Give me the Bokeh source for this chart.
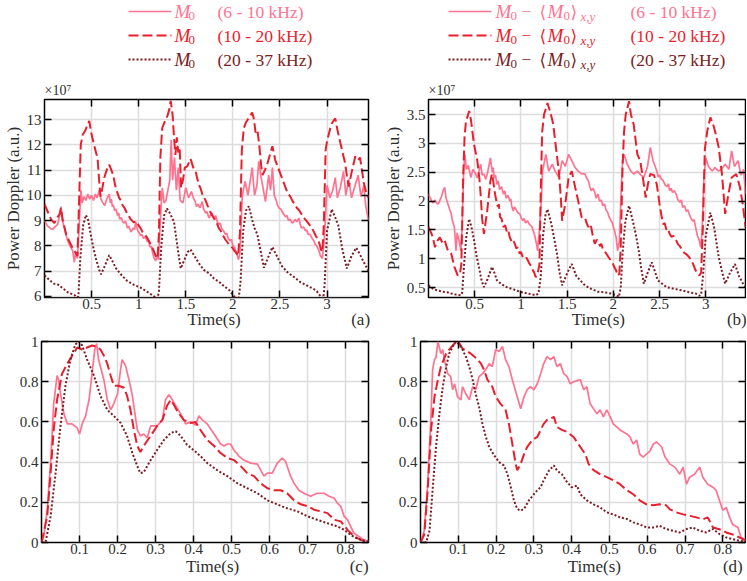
from bokeh.plotting import figure
from bokeh.models import Range1d, FixedTicker, LinearAxis, Title
from bokeh.layouts import column, row
from bokeh.embed import file_html
from bokeh.resources import INLINE
from bokeh.core.properties import value

# ---------------- data ----------------
bands = ["(6 - 10 kHz)", "(10 - 20 kHz)", "(20 - 37 kHz)"]
tags = ["(a)", "(b)", "(c)", "(d)"]

# panel (a): M0, units of 1e7
a_pink = [(0.00, 9.00), (0.03, 8.80), (0.06, 8.70), (0.087, 8.65), (0.11, 8.75), (0.14, 8.85), (0.16, 9.20), (0.175, 9.55), (0.19, 9.00), (0.21, 8.70), (0.246, 8.20), (0.27, 8.00), (0.30, 7.80), (0.316, 7.35), (0.33, 7.70), (0.35, 7.50), (0.365, 8.60), (0.387, 10.20), (0.40, 9.70), (0.42, 9.95), (0.44, 9.80), (0.46, 10.05), (0.48, 9.85), (0.50, 10.00), (0.52, 9.80), (0.54, 10.05), (0.56, 9.90), (0.58, 10.20), (0.60, 9.85), (0.62, 9.70), (0.64, 9.60), (0.66, 9.85), (0.687, 10.05), (0.70, 9.70), (0.71, 9.85), (0.72, 9.55), (0.73, 9.62), (0.745, 9.40), (0.76, 9.45), (0.775, 9.20), (0.787, 9.30), (0.80, 9.05), (0.815, 9.12), (0.83, 8.95), (0.846, 8.90), (0.86, 8.98), (0.88, 8.70), (0.895, 8.78), (0.917, 8.55), (0.93, 8.62), (0.94, 8.70), (0.955, 8.65), (0.97, 8.95), (0.98, 8.75), (0.99, 8.60), (1.005, 8.52), (1.02, 8.40), (1.035, 8.45), (1.05, 8.30), (1.07, 8.35), (1.094, 8.15), (1.105, 8.20), (1.12, 7.95), (1.135, 7.98), (1.146, 7.75), (1.165, 7.50), (1.18, 7.40), (1.195, 7.60), (1.21, 7.45), (1.23, 9.00), (1.25, 10.30), (1.27, 9.70), (1.29, 9.80), (1.31, 10.20), (1.33, 10.60), (1.345, 12.20), (1.36, 10.60), (1.38, 11.50), (1.40, 10.20), (1.42, 11.10), (1.44, 9.80), (1.47, 9.70), (1.50, 10.30), (1.53, 9.90), (1.56, 10.15), (1.58, 9.90), (1.60, 9.75), (1.615, 9.55), (1.63, 9.65), (1.65, 9.50), (1.675, 9.75), (1.69, 9.45), (1.71, 9.30), (1.725, 9.35), (1.746, 9.10), (1.76, 9.20), (1.78, 9.30), (1.80, 9.05), (1.817, 9.20), (1.835, 8.95), (1.85, 8.85), (1.865, 8.90), (1.88, 8.70), (1.90, 8.60), (1.92, 8.45), (1.935, 8.50), (1.95, 8.30), (1.97, 8.20), (1.985, 8.25), (2.00, 8.00), (2.015, 7.95), (2.03, 7.80), (2.045, 7.65), (2.06, 7.45), (2.075, 7.70), (2.10, 10.00), (2.13, 10.55), (2.16, 10.00), (2.185, 10.60), (2.205, 11.10), (2.23, 10.00), (2.255, 10.40), (2.275, 11.35), (2.30, 10.70), (2.32, 10.30), (2.346, 9.75), (2.38, 10.80), (2.40, 10.20), (2.42, 11.10), (2.44, 10.00), (2.46, 9.80), (2.475, 9.60), (2.49, 9.50), (2.51, 9.45), (2.525, 9.35), (2.54, 9.25), (2.56, 9.15), (2.575, 9.20), (2.59, 9.00), (2.61, 9.05), (2.63, 8.90), (2.645, 8.95), (2.66, 9.05), (2.68, 8.95), (2.70, 9.10), (2.715, 8.85), (2.73, 8.70), (2.75, 8.75), (2.77, 8.60), (2.785, 8.62), (2.80, 8.45), (2.82, 8.45), (2.84, 8.30), (2.86, 8.20), (2.875, 8.05), (2.89, 8.00), (2.91, 7.85), (2.93, 7.60), (2.95, 7.50), (2.97, 8.20), (3.00, 10.40), (3.03, 9.90), (3.06, 10.20), (3.087, 10.70), (3.11, 9.90), (3.14, 10.30), (3.175, 10.95), (3.20, 10.00), (3.23, 10.65), (3.26, 9.90), (3.29, 10.30), (3.33, 10.80), (3.36, 9.95), (3.39, 10.40), (3.41, 9.60), (3.44, 9.00)]
a_red = [(0.00, 9.65), (0.04, 9.30), (0.07, 9.05), (0.105, 8.90), (0.13, 9.10), (0.16, 9.25), (0.175, 9.50), (0.19, 9.10), (0.23, 8.45), (0.26, 8.20), (0.30, 7.90), (0.334, 7.70), (0.35, 7.60), (0.365, 9.50), (0.385, 12.00), (0.405, 12.40), (0.43, 12.55), (0.458, 12.80), (0.475, 12.95), (0.49, 12.60), (0.51, 12.25), (0.54, 11.80), (0.564, 11.45), (0.58, 10.60), (0.595, 9.95), (0.61, 10.20), (0.634, 10.70), (0.66, 11.00), (0.687, 11.22), (0.70, 11.10), (0.72, 10.90), (0.735, 10.70), (0.75, 10.40), (0.77, 10.15), (0.793, 9.90), (0.81, 9.80), (0.83, 9.60), (0.85, 9.50), (0.865, 9.38), (0.88, 9.25), (0.90, 9.15), (0.915, 9.05), (0.93, 9.00), (0.95, 8.92), (0.97, 8.98), (0.987, 8.90), (1.00, 8.80), (1.02, 8.70), (1.04, 8.55), (1.06, 8.45), (1.08, 8.38), (1.10, 8.25), (1.115, 8.15), (1.13, 8.05), (1.145, 7.92), (1.16, 7.80), (1.17, 7.70), (1.18, 7.60), (1.20, 7.50), (1.215, 8.50), (1.23, 11.50), (1.25, 12.67), (1.28, 12.95), (1.305, 13.15), (1.325, 13.40), (1.34, 13.75), (1.36, 13.20), (1.375, 12.30), (1.39, 11.60), (1.405, 12.30), (1.42, 11.70), (1.435, 11.90), (1.45, 10.30), (1.47, 10.60), (1.49, 11.10), (1.516, 11.15), (1.55, 11.45), (1.58, 11.10), (1.605, 10.95), (1.62, 10.70), (1.64, 10.40), (1.655, 10.30), (1.675, 10.05), (1.69, 9.95), (1.71, 9.80), (1.73, 9.60), (1.746, 9.50), (1.76, 9.35), (1.78, 9.20), (1.80, 9.10), (1.817, 8.98), (1.835, 8.85), (1.85, 8.70), (1.87, 8.60), (1.887, 8.45), (1.905, 8.35), (1.92, 8.25), (1.94, 8.15), (1.958, 8.05), (1.98, 7.98), (2.00, 7.90), (2.015, 7.80), (2.03, 7.75), (2.055, 7.60), (2.075, 8.50), (2.095, 11.80), (2.116, 12.67), (2.14, 12.90), (2.17, 13.07), (2.205, 13.28), (2.225, 13.00), (2.24, 12.50), (2.26, 12.60), (2.28, 12.00), (2.30, 11.20), (2.315, 10.80), (2.34, 11.00), (2.37, 11.30), (2.40, 11.70), (2.42, 11.95), (2.45, 11.40), (2.48, 11.10), (2.52, 10.70), (2.545, 10.45), (2.57, 10.20), (2.59, 10.05), (2.61, 9.95), (2.63, 9.80), (2.655, 9.65), (2.68, 9.50), (2.705, 9.40), (2.73, 9.25), (2.755, 9.10), (2.78, 9.00), (2.80, 8.90), (2.82, 8.80), (2.84, 8.70), (2.86, 8.55), (2.88, 8.40), (2.895, 8.30), (2.91, 8.20), (2.925, 8.00), (2.935, 7.85), (2.95, 7.75), (2.965, 8.80), (2.985, 11.80), (3.00, 12.15), (3.03, 12.60), (3.05, 12.85), (3.087, 13.05), (3.11, 12.60), (3.14, 12.10), (3.165, 11.70), (3.19, 11.30), (3.21, 10.80), (3.23, 10.35), (3.26, 10.90), (3.30, 11.55), (3.33, 11.40), (3.35, 11.50), (3.37, 11.00), (3.39, 10.50), (3.41, 10.20), (3.44, 9.90)]
a_dark = [(0.00, 6.83), (0.05, 6.65), (0.10, 6.50), (0.14, 6.47), (0.20, 6.30), (0.25, 6.15), (0.317, 6.05), (0.35, 5.95), (0.36, 6.00), (0.38, 7.50), (0.41, 8.80), (0.44, 9.22), (0.465, 9.00), (0.49, 8.45), (0.52, 7.90), (0.546, 7.50), (0.58, 7.05), (0.60, 6.87), (0.64, 7.20), (0.687, 7.63), (0.72, 7.40), (0.76, 7.10), (0.81, 6.87), (0.88, 6.60), (0.95, 6.45), (1.02, 6.34), (1.08, 6.20), (1.13, 6.08), (1.18, 5.95), (1.20, 5.90), (1.215, 6.20), (1.24, 8.00), (1.27, 9.20), (1.30, 9.48), (1.33, 9.30), (1.375, 8.95), (1.41, 8.00), (1.446, 7.10), (1.48, 7.40), (1.52, 7.75), (1.55, 7.85), (1.60, 7.55), (1.64, 7.30), (1.69, 7.05), (1.75, 6.90), (1.80, 6.70), (1.85, 6.58), (1.90, 6.42), (1.96, 6.25), (2.00, 6.05), (2.03, 5.93), (2.06, 5.85), (2.08, 6.50), (2.11, 8.60), (2.14, 9.40), (2.17, 9.57), (2.20, 9.10), (2.23, 8.70), (2.26, 8.45), (2.30, 7.70), (2.33, 7.13), (2.37, 7.50), (2.42, 7.95), (2.46, 7.65), (2.52, 7.20), (2.58, 6.95), (2.66, 6.73), (2.72, 6.55), (2.80, 6.40), (2.86, 6.28), (2.89, 6.20), (2.93, 6.00), (2.96, 5.92), (2.975, 6.50), (3.00, 8.60), (3.05, 9.45), (3.09, 9.10), (3.12, 8.80), (3.16, 7.90), (3.21, 7.10), (3.26, 7.60), (3.31, 7.92), (3.35, 7.65), (3.39, 7.35), (3.44, 7.00)]

# panel (b): M0 - <M0>xy, units of 1e7
b_pink = [(0.00, 2.12), (0.02, 2.05), (0.034, 2.00), (0.05, 1.97), (0.07, 2.02), (0.09, 1.96), (0.105, 1.95), (0.12, 2.00), (0.14, 2.08), (0.158, 2.18), (0.175, 2.24), (0.19, 2.05), (0.21, 1.95), (0.23, 1.85), (0.246, 1.78), (0.26, 1.65), (0.28, 1.55), (0.298, 1.14), (0.31, 1.45), (0.33, 1.32), (0.35, 1.14), (0.365, 1.60), (0.38, 2.52), (0.394, 2.81), (0.41, 2.55), (0.43, 2.62), (0.458, 2.41), (0.48, 2.55), (0.50, 2.50), (0.53, 2.40), (0.55, 2.55), (0.564, 2.64), (0.58, 2.45), (0.60, 2.47), (0.62, 2.38), (0.64, 2.50), (0.67, 2.75), (0.69, 2.50), (0.70, 2.58), (0.71, 2.40), (0.725, 2.45), (0.74, 2.29), (0.755, 2.35), (0.77, 2.20), (0.79, 2.25), (0.81, 2.12), (0.825, 2.18), (0.84, 2.05), (0.86, 2.10), (0.88, 2.00), (0.89, 2.04), (0.90, 1.92), (0.917, 1.83), (0.93, 1.90), (0.95, 1.85), (0.965, 1.80), (0.987, 1.78), (1.00, 1.72), (1.02, 1.66), (1.035, 1.70), (1.05, 1.62), (1.07, 1.66), (1.09, 1.60), (1.105, 1.58), (1.12, 1.55), (1.13, 1.50), (1.14, 1.45), (1.15, 1.40), (1.16, 1.32), (1.17, 1.25), (1.18, 1.14), (1.20, 1.49), (1.22, 2.00), (1.234, 2.52), (1.27, 2.81), (1.30, 2.52), (1.34, 2.64), (1.37, 2.52), (1.41, 2.41), (1.446, 2.70), (1.48, 2.60), (1.516, 2.81), (1.55, 2.70), (1.587, 2.58), (1.62, 2.52), (1.657, 2.47), (1.693, 2.47), (1.71, 2.40), (1.73, 2.35), (1.745, 2.25), (1.76, 2.18), (1.78, 2.22), (1.80, 2.15), (1.815, 2.05), (1.834, 2.12), (1.85, 2.00), (1.87, 2.02), (1.885, 1.92), (1.905, 1.95), (1.92, 1.85), (1.94, 1.80), (1.955, 1.72), (1.975, 1.66), (1.99, 1.62), (2.00, 1.55), (2.015, 1.48), (2.03, 1.37), (2.046, 1.14), (2.065, 1.30), (2.085, 2.20), (2.10, 2.70), (2.116, 2.81), (2.15, 2.64), (2.19, 2.52), (2.22, 2.47), (2.26, 2.52), (2.30, 2.45), (2.33, 2.41), (2.37, 2.60), (2.40, 2.93), (2.43, 2.70), (2.47, 2.52), (2.485, 2.42), (2.50, 2.45), (2.52, 2.38), (2.54, 2.35), (2.56, 2.28), (2.58, 2.25), (2.595, 2.30), (2.61, 2.18), (2.625, 2.22), (2.64, 2.15), (2.66, 2.18), (2.68, 2.12), (2.70, 2.02), (2.72, 1.98), (2.735, 2.02), (2.75, 1.89), (2.77, 1.92), (2.79, 1.82), (2.805, 1.85), (2.82, 1.78), (2.84, 1.70), (2.86, 1.65), (2.875, 1.68), (2.89, 1.55), (2.91, 1.40), (2.93, 1.32), (2.945, 1.20), (2.96, 1.45), (2.98, 2.40), (3.00, 2.75), (3.03, 2.60), (3.07, 2.52), (3.10, 2.58), (3.14, 2.52), (3.17, 2.55), (3.21, 2.64), (3.25, 2.55), (3.28, 2.87), (3.31, 2.60), (3.35, 2.70), (3.38, 2.45), (3.41, 2.55), (3.43, 2.12)]
b_red = [(0.00, 1.55), (0.034, 1.43), (0.05, 1.35), (0.07, 1.20), (0.09, 1.30), (0.123, 1.37), (0.15, 1.28), (0.175, 1.32), (0.21, 1.14), (0.246, 1.09), (0.28, 0.86), (0.30, 0.78), (0.317, 0.71), (0.34, 0.74), (0.355, 0.90), (0.375, 2.40), (0.39, 3.10), (0.405, 3.38), (0.425, 3.48), (0.44, 3.56), (0.46, 3.40), (0.475, 3.20), (0.493, 2.98), (0.528, 2.70), (0.55, 2.40), (0.564, 2.12), (0.58, 1.70), (0.60, 1.43), (0.635, 1.83), (0.67, 2.35), (0.687, 2.47), (0.70, 2.35), (0.72, 2.12), (0.735, 2.00), (0.75, 1.90), (0.76, 1.95), (0.775, 1.72), (0.79, 1.70), (0.81, 1.55), (0.83, 1.58), (0.85, 1.45), (0.865, 1.48), (0.88, 1.37), (0.90, 1.30), (0.915, 1.33), (0.934, 1.26), (0.95, 1.18), (0.965, 1.20), (0.987, 1.09), (1.00, 1.12), (1.02, 1.03), (1.04, 1.00), (1.06, 1.02), (1.076, 0.97), (1.09, 0.92), (1.10, 0.90), (1.115, 0.86), (1.13, 0.80), (1.145, 0.76), (1.16, 0.68), (1.18, 0.74), (1.20, 0.90), (1.215, 2.20), (1.23, 3.20), (1.25, 3.50), (1.27, 3.60), (1.287, 3.70), (1.32, 3.53), (1.35, 3.33), (1.375, 2.98), (1.41, 2.52), (1.43, 2.10), (1.446, 1.66), (1.48, 1.95), (1.516, 2.41), (1.55, 2.52), (1.587, 2.24), (1.62, 2.00), (1.657, 1.72), (1.693, 1.72), (1.71, 1.62), (1.73, 1.55), (1.745, 1.60), (1.76, 1.55), (1.78, 1.38), (1.80, 1.26), (1.82, 1.33), (1.84, 1.30), (1.855, 1.22), (1.87, 1.26), (1.89, 1.15), (1.92, 1.10), (1.94, 1.05), (1.96, 1.00), (1.975, 0.97), (1.99, 0.94), (2.00, 0.90), (2.015, 0.84), (2.03, 0.80), (2.046, 0.71), (2.065, 0.74), (2.08, 1.20), (2.10, 2.60), (2.116, 3.20), (2.134, 3.50), (2.15, 3.60), (2.17, 3.73), (2.19, 3.50), (2.22, 3.33), (2.26, 2.81), (2.29, 2.70), (2.32, 2.40), (2.35, 2.06), (2.375, 2.30), (2.40, 2.47), (2.44, 2.45), (2.47, 2.29), (2.50, 1.95), (2.52, 1.75), (2.54, 1.60), (2.555, 1.62), (2.575, 1.50), (2.59, 1.52), (2.61, 1.43), (2.63, 1.38), (2.65, 1.40), (2.68, 1.32), (2.70, 1.25), (2.72, 1.22), (2.75, 1.14), (2.77, 1.10), (2.79, 1.08), (2.82, 1.03), (2.84, 0.98), (2.86, 0.92), (2.875, 0.86), (2.89, 0.80), (2.91, 0.75), (2.93, 0.71), (2.95, 0.76), (2.97, 1.60), (2.99, 2.90), (3.016, 3.21), (3.05, 3.45), (3.08, 3.33), (3.11, 3.15), (3.14, 2.93), (3.175, 2.47), (3.21, 1.78), (3.245, 2.12), (3.28, 2.41), (3.33, 2.47), (3.37, 2.24), (3.40, 1.95), (3.43, 1.55)]
b_dark = [(0.00, 0.54), (0.03, 0.50), (0.06, 0.47), (0.105, 0.45), (0.15, 0.43), (0.20, 0.42), (0.246, 0.40), (0.30, 0.38), (0.35, 0.37), (0.365, 0.42), (0.385, 0.90), (0.41, 1.40), (0.44, 1.69), (0.465, 1.55), (0.493, 1.32), (0.52, 1.05), (0.546, 0.86), (0.575, 0.62), (0.60, 0.51), (0.64, 0.65), (0.687, 0.86), (0.715, 0.75), (0.74, 0.63), (0.79, 0.56), (0.846, 0.51), (0.92, 0.47), (0.987, 0.43), (1.07, 0.40), (1.16, 0.37), (1.19, 0.40), (1.215, 0.70), (1.24, 1.40), (1.265, 1.75), (1.287, 1.86), (1.33, 1.60), (1.36, 1.35), (1.39, 1.09), (1.42, 0.75), (1.446, 0.54), (1.50, 0.75), (1.55, 0.91), (1.60, 0.70), (1.64, 0.63), (1.693, 0.54), (1.76, 0.48), (1.834, 0.43), (1.90, 0.42), (1.975, 0.40), (2.03, 0.37), (2.06, 0.34), (2.08, 0.50), (2.10, 1.10), (2.13, 1.65), (2.17, 1.92), (2.21, 1.66), (2.24, 1.45), (2.275, 1.14), (2.30, 0.85), (2.33, 0.57), (2.37, 0.75), (2.416, 0.94), (2.45, 0.78), (2.48, 0.63), (2.575, 0.51), (2.66, 0.48), (2.75, 0.45), (2.82, 0.42), (2.89, 0.40), (2.93, 0.36), (2.95, 0.38), (2.97, 0.70), (3.00, 1.40), (3.05, 1.80), (3.09, 1.55), (3.14, 1.03), (3.18, 0.75), (3.21, 0.57), (3.26, 0.75), (3.316, 0.91), (3.36, 0.70), (3.40, 0.58), (3.43, 0.51)]

# panel (c): normalised M0 over one cycle
c_pink = [(0.0, 0.0), (0.006, 0.03), (0.015, 0.16), (0.024, 0.40), (0.032, 0.69), (0.041, 0.83), (0.045, 0.81), (0.05, 0.74), (0.059, 0.64), (0.068, 0.59), (0.08, 0.59), (0.094, 0.57), (0.10, 0.54), (0.107, 0.59), (0.116, 0.63), (0.125, 0.71), (0.133, 0.84), (0.14, 0.96), (0.145, 0.99), (0.15, 0.91), (0.164, 0.81), (0.173, 0.71), (0.182, 0.66), (0.19, 0.69), (0.20, 0.74), (0.208, 0.86), (0.212, 0.91), (0.221, 0.88), (0.23, 0.81), (0.239, 0.73), (0.252, 0.56), (0.26, 0.53), (0.269, 0.54), (0.278, 0.52), (0.287, 0.58), (0.304, 0.58), (0.318, 0.61), (0.326, 0.71), (0.335, 0.735), (0.344, 0.71), (0.353, 0.68), (0.366, 0.64), (0.379, 0.59), (0.392, 0.60), (0.405, 0.585), (0.414, 0.63), (0.423, 0.61), (0.436, 0.59), (0.454, 0.54), (0.471, 0.49), (0.48, 0.48), (0.489, 0.49), (0.497, 0.49), (0.506, 0.46), (0.519, 0.43), (0.532, 0.41), (0.55, 0.395), (0.568, 0.39), (0.585, 0.33), (0.594, 0.345), (0.607, 0.345), (0.62, 0.395), (0.633, 0.42), (0.642, 0.403), (0.655, 0.33), (0.664, 0.295), (0.677, 0.26), (0.69, 0.245), (0.708, 0.23), (0.725, 0.245), (0.743, 0.245), (0.756, 0.23), (0.77, 0.22), (0.778, 0.196), (0.787, 0.18), (0.796, 0.13), (0.805, 0.113), (0.813, 0.08), (0.822, 0.046), (0.835, 0.03), (0.848, 0.013), (0.86, 0.005)]
c_red = [(0.0, 0.0), (0.015, 0.13), (0.024, 0.345), (0.032, 0.56), (0.041, 0.71), (0.054, 0.84), (0.068, 0.89), (0.081, 0.93), (0.094, 0.97), (0.107, 0.96), (0.12, 0.97), (0.133, 0.98), (0.145, 0.975), (0.155, 0.96), (0.164, 0.93), (0.173, 0.89), (0.182, 0.83), (0.19, 0.78), (0.203, 0.78), (0.217, 0.77), (0.225, 0.73), (0.234, 0.66), (0.243, 0.56), (0.252, 0.48), (0.26, 0.45), (0.274, 0.495), (0.287, 0.53), (0.304, 0.58), (0.318, 0.61), (0.33, 0.68), (0.34, 0.71), (0.348, 0.685), (0.36, 0.645), (0.374, 0.61), (0.392, 0.595), (0.405, 0.60), (0.418, 0.56), (0.436, 0.51), (0.454, 0.48), (0.471, 0.445), (0.489, 0.42), (0.506, 0.41), (0.524, 0.38), (0.541, 0.345), (0.559, 0.33), (0.576, 0.295), (0.594, 0.27), (0.611, 0.26), (0.629, 0.26), (0.646, 0.245), (0.664, 0.21), (0.682, 0.19), (0.70, 0.18), (0.717, 0.163), (0.734, 0.155), (0.752, 0.146), (0.77, 0.113), (0.787, 0.105), (0.805, 0.063), (0.822, 0.03), (0.84, 0.013), (0.86, 0.005)]
c_dark = [(0.0, 0.0), (0.011, 0.005), (0.024, 0.13), (0.037, 0.345), (0.05, 0.58), (0.063, 0.78), (0.076, 0.91), (0.089, 0.985), (0.098, 1.0), (0.107, 0.98), (0.12, 0.91), (0.138, 0.83), (0.155, 0.73), (0.173, 0.66), (0.19, 0.63), (0.208, 0.595), (0.225, 0.53), (0.239, 0.445), (0.252, 0.38), (0.26, 0.345), (0.269, 0.35), (0.287, 0.41), (0.304, 0.46), (0.322, 0.51), (0.34, 0.545), (0.353, 0.553), (0.366, 0.53), (0.383, 0.486), (0.40, 0.46), (0.418, 0.43), (0.436, 0.395), (0.462, 0.36), (0.489, 0.33), (0.515, 0.295), (0.541, 0.27), (0.568, 0.245), (0.594, 0.21), (0.62, 0.19), (0.646, 0.17), (0.673, 0.155), (0.70, 0.13), (0.725, 0.113), (0.752, 0.096), (0.778, 0.08), (0.796, 0.063), (0.813, 0.038), (0.83, 0.02), (0.848, 0.008), (0.86, 0.005)]

# panel (d): normalised M0 - <M0>xy over one cycle
d_pink = [(0.0, 0.0), (0.002, 0.01), (0.01, 0.06), (0.019, 0.29), (0.028, 0.64), (0.032, 0.86), (0.037, 0.91), (0.041, 0.92), (0.046, 1.0), (0.054, 0.94), (0.059, 0.96), (0.063, 0.91), (0.072, 0.84), (0.08, 0.825), (0.085, 0.76), (0.09, 0.79), (0.098, 0.725), (0.107, 0.71), (0.111, 0.775), (0.12, 0.74), (0.129, 0.71), (0.138, 0.775), (0.146, 0.76), (0.155, 0.825), (0.164, 0.84), (0.173, 0.86), (0.182, 0.89), (0.19, 0.875), (0.199, 0.96), (0.208, 0.95), (0.217, 0.975), (0.225, 0.91), (0.234, 0.875), (0.243, 0.81), (0.256, 0.725), (0.265, 0.665), (0.274, 0.725), (0.282, 0.76), (0.291, 0.775), (0.30, 0.76), (0.309, 0.79), (0.318, 0.84), (0.326, 0.89), (0.335, 0.925), (0.344, 0.91), (0.353, 0.925), (0.361, 0.875), (0.37, 0.89), (0.379, 0.84), (0.388, 0.825), (0.396, 0.79), (0.405, 0.80), (0.423, 0.81), (0.432, 0.76), (0.44, 0.775), (0.449, 0.69), (0.467, 0.64), (0.475, 0.66), (0.484, 0.625), (0.493, 0.66), (0.502, 0.625), (0.51, 0.59), (0.528, 0.56), (0.546, 0.54), (0.554, 0.525), (0.563, 0.49), (0.572, 0.51), (0.58, 0.44), (0.589, 0.425), (0.598, 0.44), (0.607, 0.455), (0.616, 0.49), (0.625, 0.50), (0.638, 0.475), (0.647, 0.425), (0.66, 0.39), (0.673, 0.375), (0.686, 0.34), (0.695, 0.375), (0.704, 0.29), (0.712, 0.325), (0.725, 0.34), (0.739, 0.375), (0.747, 0.325), (0.76, 0.29), (0.774, 0.275), (0.782, 0.26), (0.791, 0.21), (0.80, 0.16), (0.809, 0.175), (0.818, 0.125), (0.826, 0.09), (0.84, 0.075), (0.848, 0.025), (0.861, 0.01)]
d_red = [(0.0, 0.0), (0.01, 0.04), (0.019, 0.26), (0.028, 0.56), (0.037, 0.725), (0.046, 0.81), (0.054, 0.875), (0.068, 0.94), (0.076, 0.96), (0.09, 0.99), (0.10, 1.0), (0.111, 0.965), (0.125, 0.95), (0.133, 0.94), (0.142, 0.925), (0.151, 0.91), (0.16, 0.89), (0.168, 0.86), (0.177, 0.81), (0.19, 0.775), (0.199, 0.725), (0.212, 0.69), (0.225, 0.66), (0.234, 0.59), (0.243, 0.49), (0.252, 0.39), (0.256, 0.36), (0.265, 0.39), (0.274, 0.44), (0.282, 0.475), (0.296, 0.51), (0.309, 0.525), (0.318, 0.56), (0.326, 0.59), (0.335, 0.61), (0.344, 0.617), (0.353, 0.625), (0.361, 0.575), (0.374, 0.56), (0.388, 0.55), (0.405, 0.525), (0.423, 0.475), (0.436, 0.44), (0.445, 0.39), (0.458, 0.36), (0.475, 0.34), (0.493, 0.325), (0.51, 0.31), (0.528, 0.29), (0.546, 0.26), (0.563, 0.24), (0.58, 0.21), (0.598, 0.19), (0.616, 0.185), (0.633, 0.19), (0.65, 0.185), (0.66, 0.165), (0.677, 0.15), (0.695, 0.14), (0.712, 0.133), (0.73, 0.125), (0.747, 0.115), (0.76, 0.125), (0.774, 0.075), (0.791, 0.066), (0.809, 0.05), (0.826, 0.04), (0.844, 0.025), (0.86, 0.01)]
d_dark = [(0.0, 0.0), (0.015, 0.0), (0.024, 0.06), (0.032, 0.26), (0.041, 0.475), (0.05, 0.64), (0.059, 0.775), (0.068, 0.875), (0.076, 0.94), (0.085, 0.975), (0.094, 1.0), (0.103, 0.985), (0.111, 0.96), (0.12, 0.925), (0.129, 0.875), (0.138, 0.81), (0.146, 0.74), (0.155, 0.675), (0.164, 0.59), (0.173, 0.525), (0.182, 0.475), (0.195, 0.433), (0.208, 0.40), (0.221, 0.383), (0.23, 0.34), (0.239, 0.275), (0.247, 0.21), (0.256, 0.167), (0.265, 0.158), (0.274, 0.167), (0.287, 0.21), (0.30, 0.24), (0.309, 0.26), (0.318, 0.275), (0.326, 0.31), (0.34, 0.358), (0.353, 0.383), (0.361, 0.358), (0.374, 0.34), (0.388, 0.30), (0.40, 0.275), (0.414, 0.283), (0.423, 0.24), (0.44, 0.21), (0.458, 0.19), (0.475, 0.175), (0.493, 0.15), (0.51, 0.14), (0.528, 0.125), (0.546, 0.117), (0.563, 0.10), (0.58, 0.09), (0.598, 0.075), (0.616, 0.075), (0.633, 0.083), (0.65, 0.067), (0.668, 0.058), (0.686, 0.05), (0.704, 0.067), (0.72, 0.075), (0.739, 0.058), (0.756, 0.05), (0.774, 0.067), (0.791, 0.042), (0.809, 0.025), (0.826, 0.017), (0.844, 0.008), (0.86, 0.005)]

# axes ticks and labels
top_xticks = [0.5, 1, 1.5, 2, 2.5, 3]
top_xlabels = ["0.5", "1", "1.5", "2", "2.5", "3"]
bot_xticks = [0.1, 0.2, 0.3, 0.4, 0.5, 0.6, 0.7, 0.8]
bot_xlabels = ["0.1", "0.2", "0.3", "0.4", "0.5", "0.6", "0.7", "0.8"]
a_yticks = [6, 7, 8, 9, 10, 11, 12, 13]
a_ylabels = ["6", "7", "8", "9", "10", "11", "12", "13"]
b_yticks = [0.5, 1, 1.5, 2, 2.5, 3, 3.5]
b_ylabels = ["0.5", "1", "1.5", "2", "2.5", "3", "3.5"]
n_yticks = [0, 0.2, 0.4, 0.6, 0.8, 1]
n_ylabels = ["0", "0.2", "0.4", "0.6", "0.8", "1"]

# ---------------- style ----------------
FONT = "Liberation Serif"
TXT = "#2e2e2e"
PINK = "#ff7390"
RED = "#e81e2c"
DARK = "#7a1c22"
STYLES = [dict(line_color=PINK, line_width=1.7),
          dict(line_color=RED, line_width=2.0, line_dash="10 4"),
          dict(line_color=DARK, line_width=2.0, line_dash="2 2")]
GRID = "#dcdcdc"
NB = "\u00a0"


def make_panel(series, xr, yr, xt, xl, yt, yl, tag, width, height,
               bl, br, bt, bb, pad_l, pad_m, lab_off, ylabel=None, sci=False):
    p = figure(width=width, height=height, x_range=Range1d(*xr), y_range=Range1d(*yr),
               output_backend="svg", toolbar_location=None,
               min_border_left=bl, min_border_right=br, min_border_top=bt, min_border_bottom=bb)
    p.outline_line_color = "black"
    p.outline_line_width = 1.5
    for s, st in zip(series, STYLES):
        p.line([q[0] for q in s], [q[1] for q in s], **st)
    for ax, ticks, labels in ((p.xaxis[0], xt, xl), (p.yaxis[0], yt, yl)):
        ax.ticker = FixedTicker(ticks=ticks)
        ax.major_label_overrides = dict(zip(ticks, labels))
        ax.major_tick_in = 7
        ax.major_tick_out = 0
        ax.minor_tick_line_color = None
        ax.major_tick_line_color = "black"
        ax.major_tick_line_width = 1.5
        ax.axis_line_color = None
        ax.major_label_text_font = FONT
        ax.major_label_text_font_size = "15px"
        ax.major_label_text_color = TXT
        ax.major_label_standoff = 3
        ax.axis_label_text_font = FONT
        ax.axis_label_text_font_size = "17px"
        ax.axis_label_text_font_style = "normal"
        ax.axis_label_text_color = TXT
        ax.axis_label_standoff = 1
    # x label carries the panel tag at the right end (same line as "Time(s)")
    p.xaxis[0].axis_label = NB * pad_l + "Time(s)" + NB * pad_m + tag
    p.xaxis[0].major_label_standoff = 1
    p.xaxis[0].axis_label_standoff = lab_off
    if ylabel:
        p.yaxis[0].axis_label = ylabel
    p.xgrid.ticker = FixedTicker(ticks=xt)
    p.ygrid.ticker = FixedTicker(ticks=yt)
    p.grid.grid_line_color = GRID
    p.grid.grid_line_width = 1.5
    # mirrored inward ticks on top and right
    for place, ticks in (("above", xt), ("right", yt)):
        ax = LinearAxis(ticker=FixedTicker(ticks=ticks), major_label_text_font_size="1px",
                        major_label_overrides={t: "" for t in ticks},
                        major_label_standoff=0, major_tick_in=7, major_tick_out=0,
                        minor_tick_line_color=None, axis_line_color=None,
                        major_tick_line_width=1.5)
        p.add_layout(ax, place)
    if sci:
        p.add_layout(Title(text="×10⁷", align="left", text_font=FONT, text_font_size="14px",
                           text_font_style="normal", text_color=TXT, standoff=3), "above")
    return p


TOP_H, BOT_H = 254, 248
pa = make_panel([a_pink, a_red, a_dark], (0, 3.44), (5.95, 13.8), top_xticks, top_xlabels,
                a_yticks, a_ylabels, tags[0], 380, TOP_H, 41, 12, 21, 35, 34, 26, -2,
                ylabel="Power Doppler (a.u.)", sci=True)
pb = make_panel([b_pink, b_red, b_dark], (0, 3.43), (0.33, 3.76), top_xticks, top_xlabels,
                b_yticks, b_ylabels, tags[1], 366, TOP_H, 40, 1, 21, 35, 34, 24, -2,
                ylabel="Power Doppler (a.u.)", sci=True)
pc = make_panel([c_pink, c_red, c_dark], (0, 0.86), (0, 1.0), bot_xticks, bot_xlabels,
                n_yticks, n_ylabels, tags[2], 380, BOT_H, 41, 12, 9, 38, 34, 26, 0)
pd = make_panel([d_pink, d_red, d_dark], (0, 0.86), (0, 1.0), bot_xticks, bot_xlabels,
                n_yticks, n_ylabels, tags[3], 366, BOT_H, 40, 1, 9, 38, 34, 24, 0)

# ---------------- legend strip (coordinates = page pixels) ----------------
LW, LH = 746, 78
leg = figure(width=LW, height=LH, x_range=Range1d(0, LW), y_range=Range1d(0, LH),
             output_backend="svg", toolbar_location=None, min_border=0)
leg.axis.visible = False
leg.grid.visible = False
leg.outline_line_color = None
rows_y = [LH - 11, LH - 35, LH - 59]
cols = [PINK, RED, DARK]
tf = value(FONT)


def ltext(x, y, s, col, size="17.5px", style="normal", font=tf):
    leg.text([x], [y], text=[s], text_font=font, text_font_style=style,
             text_font_size=size, text_color=col, text_baseline="middle")


for yy, st, col, band in zip(rows_y, STYLES, cols, bands):
    # left block: M0
    leg.line([128, 171], [yy, yy], **st)
    ltext(174, yy, "M", col, "19px", "italic")
    ltext(188, yy - 4, "0", col, "13px")
    ltext(217, yy, band, col)
    # right block: M0 - <M0>_{x,y}
    leg.line([448, 491], [yy, yy], **st)
    ltext(495, yy, "M", col, "19px", "italic")
    ltext(510, yy - 4, "0", col, "13px")
    ltext(521, yy, "−", col, "17.5px")
    ltext(539, yy, "⟨", col, "17px", font=value("DejaVu Serif"))
    ltext(547, yy, "M", col, "19px", "italic")
    ltext(563, yy - 4, "0", col, "13px")
    ltext(570, yy, "⟩", col, "17px", font=value("DejaVu Serif"))
    ltext(580, yy - 5, "x,y", col, "13px", "italic")
    ltext(630, yy, band, col)

layout = column(leg, row(pa, pb), row(pc, pd))
open("out.html", "w").write(file_html(layout, INLINE))
